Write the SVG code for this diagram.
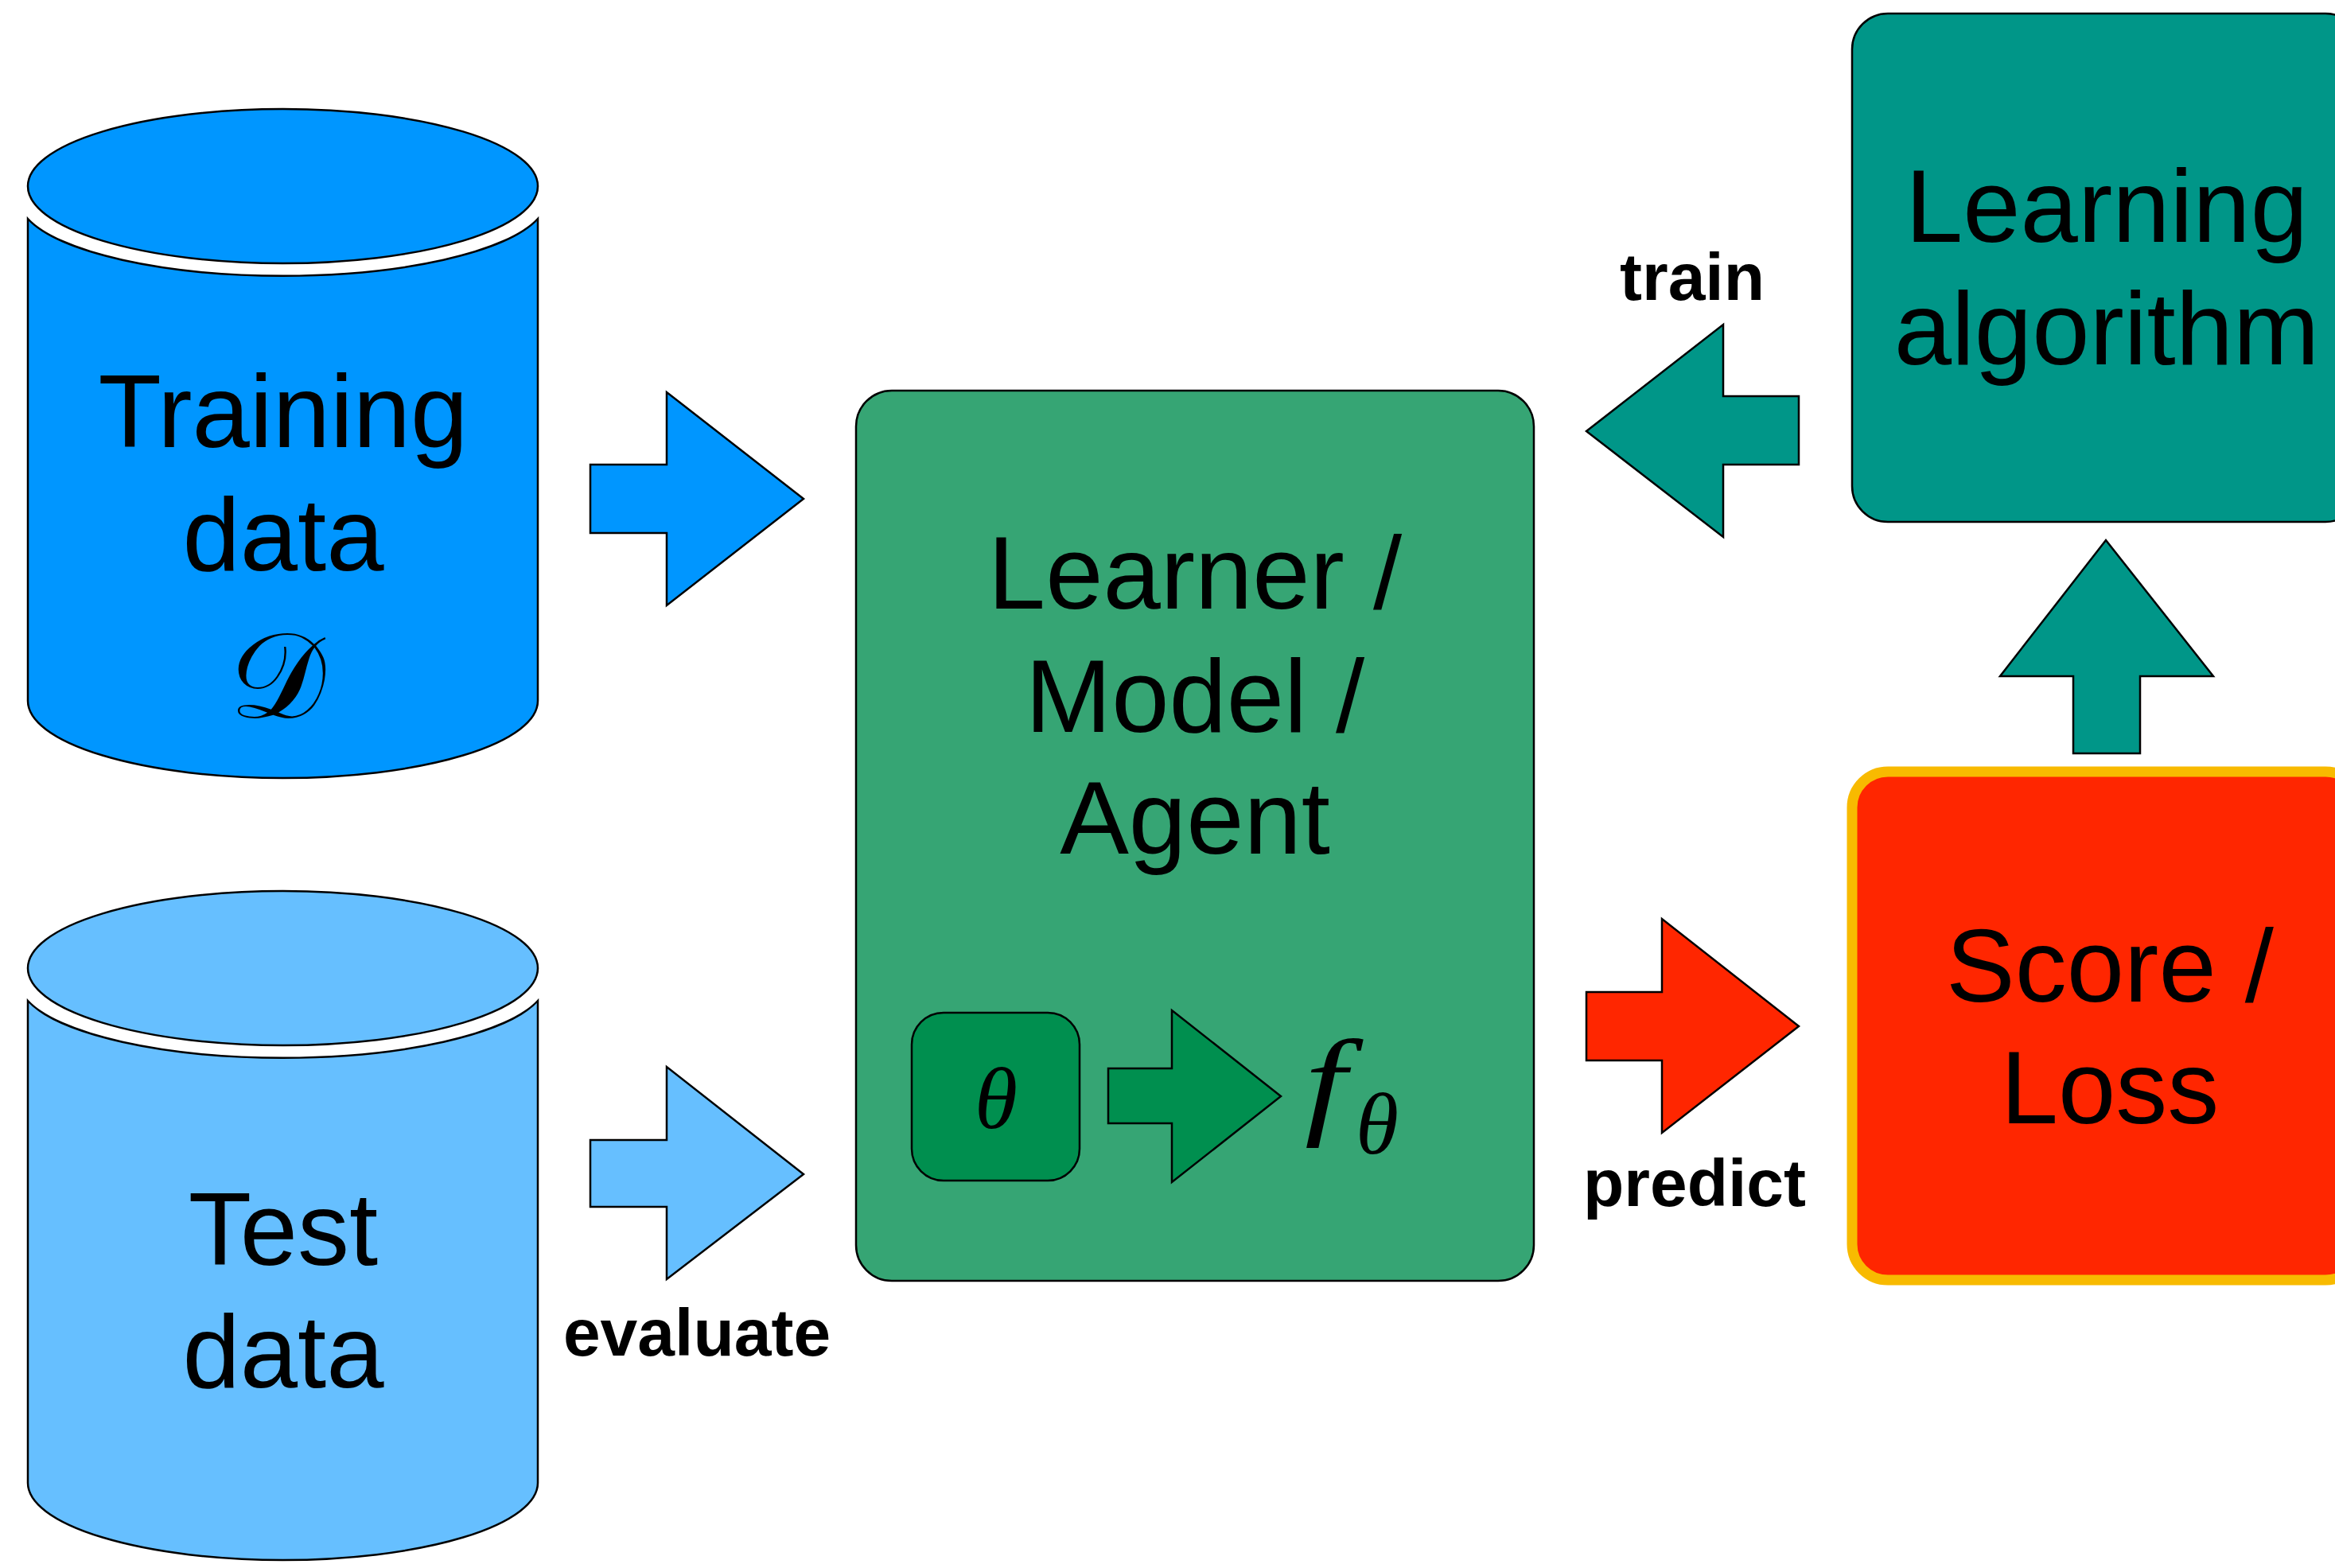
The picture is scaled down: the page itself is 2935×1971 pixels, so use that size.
<svg xmlns="http://www.w3.org/2000/svg" width="2935" height="1971" viewBox="0 0 2935 1971">
<style>
  .lbl{font-family:"Liberation Sans",Arial,sans-serif;font-size:130px;text-anchor:middle;fill:#000}
  .edge{font-family:"Liberation Sans",Arial,sans-serif;font-size:84px;font-weight:bold;text-anchor:middle;fill:#000}
  .math{font-family:"Liberation Serif","Times New Roman",serif;font-style:italic;fill:#000}
  .ol{stroke:#000;stroke-width:2.5;stroke-linejoin:miter}
</style>
<rect width="2935" height="1971" fill="#fff"/>

<!-- training data store -->
<g id="training-data">
  <path class="ol" fill="#0096FF" d="M35,275 A332,97 0 0 0 676,275 L676,881 A320.5,97 0 0 1 35,881 Z"/>
  <ellipse class="ol" fill="#0096FF" cx="355.5" cy="234" rx="320.5" ry="97"/>
  <text class="lbl" x="356" y="562">Training</text>
  <text class="lbl" x="356" y="717">data</text>
  <text x="348" y="902" font-size="152" text-anchor="middle" font-family="'DejaVu Serif','DejaVu Sans',serif">𝒟</text>
</g>

<!-- test data store -->
<g id="test-data">
  <path class="ol" fill="#66BFFF" d="M35,1258 A332,97 0 0 0 676,1258 L676,1864 A320.5,97 0 0 1 35,1864 Z"/>
  <ellipse class="ol" fill="#66BFFF" cx="355.5" cy="1217" rx="320.5" ry="97"/>
  <text class="lbl" x="356" y="1590">Test</text>
  <text class="lbl" x="356" y="1744">data</text>
</g>

<!-- learner / model / agent -->
<g id="learner">
  <rect class="ol" fill="#36A574" x="1076" y="491" width="852" height="1119" rx="45"/>
  <text class="lbl" x="1502" y="765">Learner /</text>
  <text class="lbl" x="1502" y="920">Model /</text>
  <text class="lbl" x="1502" y="1073">Agent</text>
  <rect class="ol" fill="#008F4F" x="1146" y="1273" width="211" height="211" rx="40"/>
  <text class="math" x="1252" y="1418" font-size="110" text-anchor="middle">θ</text>
  <polygon class="ol" fill="#008F4F" points="1393,1343 1473,1343 1473,1270 1610,1378 1473,1486 1473,1412 1393,1412"/>
  <text class="math" x="1640" y="1411" font-size="150" transform="translate(1640 0) scale(1.25 1) translate(-1640 0)">f</text>
  <text class="math" x="1704" y="1450" font-size="110">θ</text>
</g>

<!-- learning algorithm -->
<g id="learning-algorithm">
  <rect class="ol" fill="#009688" x="2328" y="17" width="640" height="639" rx="45"/>
  <text class="lbl" x="2648" y="304" font-size="133">Learning</text>
  <text class="lbl" x="2648" y="458" font-size="133">algorithm</text>
</g>

<!-- score / loss -->
<g id="score-loss">
  <rect fill="#FF2600" stroke="#F8BA00" stroke-width="13" x="2328" y="970" width="640" height="639" rx="45"/>
  <text class="lbl" x="2652" y="1259" font-size="133">Score /</text>
  <text class="lbl" x="2652" y="1412" font-size="133">Loss</text>
</g>

<!-- block arrows between the stages -->
<g id="connectors">
  <polygon class="ol" fill="#0096FF" points="742,584 838,584 838,493 1010,627 838,761 838,670 742,670"/>
  <polygon class="ol" fill="#66BFFF" points="742,1433 838,1433 838,1341 1010,1476 838,1608 838,1517 742,1517"/>
  <polygon class="ol" fill="#FF2600" points="1994,1247 2089,1247 2089,1155 2261,1290 2089,1424 2089,1333 1994,1333"/>
  <polygon class="ol" fill="#009688" points="2261,498 2166,498 2166,408 1994,542 2166,675 2166,584 2261,584"/>
  <polygon class="ol" fill="#009688" points="2606,947 2606,850 2514,850 2647,679 2782,850 2690,850 2690,947"/>
  <text class="edge" x="876" y="1704">evaluate</text>
  <text class="edge" x="2127" y="377">train</text>
  <text class="edge" x="2130" y="1516">predict</text>
</g>
</svg>
